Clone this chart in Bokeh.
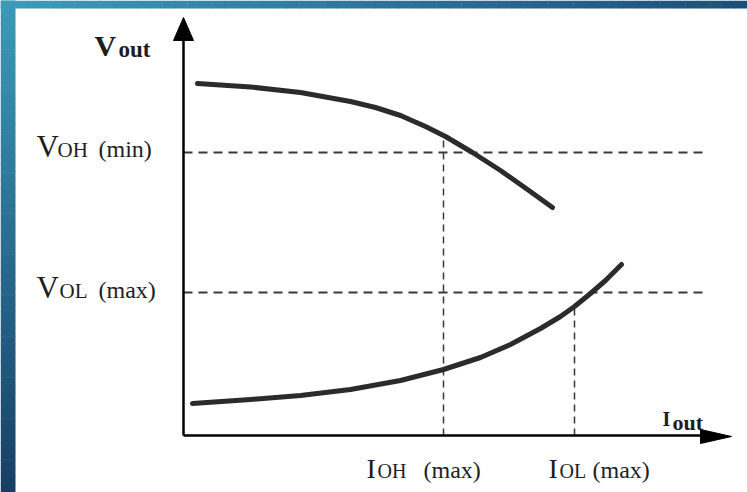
import numpy as np
from bokeh.plotting import figure
from bokeh.models import Range1d
from bokeh.core.properties import value
from bokeh.embed import file_html
from bokeh.resources import INLINE

# Output characteristic curves (arbitrary units, origin at the axes corner)
i_high = [14, 67, 117, 167, 192, 217, 242, 262, 289, 317, 344, 369]
v_high = [352, 348.5, 343, 334, 328, 320, 309, 299, 283, 265, 246, 228]

i_low = [9, 67, 117, 167, 217, 260, 297, 327, 357, 377, 391, 407, 422, 438]
v_low = [32, 36, 40, 46, 55, 66, 78, 91, 107, 119, 129, 142, 155, 171]

# Specification levels
VOH_MIN = 283
VOL_MAX = 143
IOH_MAX = 260
IOL_MAX = 391

W, H = 747, 492
X0, Y0 = 183, 435  # pixel position of the origin

p = figure(width=W, height=H, output_backend="svg", toolbar_location=None,
           x_range=Range1d(-X0, W - X0), y_range=Range1d(Y0 - H, Y0),
           min_border=0, x_axis_type=None, y_axis_type=None)
p.grid.visible = False
p.outline_line_color = None
p.background_fill_color = "white"
p.border_fill_color = "white"


def px(x):
    return x - X0


def py(y):
    return Y0 - y


def hexmix(c1, c2, t):
    a = np.array([int(c1[i:i + 2], 16) for i in (1, 3, 5)], dtype=float)
    b = np.array([int(c2[i:i + 2], 16) for i in (1, 3, 5)], dtype=float)
    c = a + (b - a) * t
    return "#%02x%02x%02x" % tuple(int(round(v)) for v in c)


# slide frame: gradient bands along the top and the left
n = 60
xs = np.linspace(0, W, n + 1)
p.quad(left=[px(v) for v in xs[:-1]], right=[px(v) + 0.5 for v in xs[1:]],
       top=[py(0)] * n, bottom=[py(8)] * n,
       fill_color=[hexmix("#3b9bba", "#1c4f77", k / (n - 1)) for k in range(n)],
       line_color=None)
ys = np.linspace(0, H, n + 1)
p.quad(left=[px(0)] * n, right=[px(15)] * n,
       top=[py(v) + 0.5 for v in ys[:-1]], bottom=[py(v) for v in ys[1:]],
       fill_color=[hexmix("#3a9ab8", "#173f66", k / (n - 1)) for k in range(n)],
       line_color=None)

# dashed reference levels
dash_c = "#383838"
p.line([0, px(705)], [VOH_MIN, VOH_MIN], line_color=dash_c, line_width=2, line_dash="9 6")
p.line([0, px(705)], [VOL_MAX, VOL_MAX], line_color=dash_c, line_width=2, line_dash="9 6")
v_at_ioh = float(np.interp(IOH_MAX, i_high, v_high))
v_at_iol = float(np.interp(IOL_MAX, i_low, v_low))
p.line([IOH_MAX, IOH_MAX], [0, v_at_ioh], line_color=dash_c, line_width=1.5, line_dash="7 5")
p.line([IOL_MAX, IOL_MAX], [0, v_at_iol], line_color=dash_c, line_width=1.5, line_dash="7 5")

# curves
curve_c = "#2b2b2b"
p.line(i_high, v_high, line_color=curve_c, line_width=5, line_join="round", line_cap="round")
p.line(i_low, v_low, line_color=curve_c, line_width=5, line_join="round", line_cap="round")

# axes with arrow heads
p.line([0, 0], [0, py(38)], line_color="black", line_width=2.5)
p.line([0, px(705)], [0, 0], line_color="black", line_width=2.5)
p.patch([px(173), px(183), px(193)], [py(40), py(17), py(40)], fill_color="black", line_color="black")
p.patch([px(700), px(731), px(700)], [py(429), py(436), py(443)], fill_color="black", line_color="black")

serif = value("Liberation Serif")
txt_c = "#1e1e1e"


def put(x, y, s, size, bold=False):
    # y is the wanted baseline (pixels from the top)
    p.text(x=[px(x)], y=[py(y - 0.33 * size)], text=[s], text_font=serif,
           text_font_size=f"{size}px", text_font_style="bold" if bold else "normal",
           text_color=txt_c, text_baseline="alphabetic", text_align="left")


# axis titles
put(94, 55, "V", 30, True)
put(118, 57, "out", 23, True)
put(662, 425, "I", 20, True)
put(672, 429, "out", 22, True)

# level labels
put(36, 156, "V", 31)
put(57, 156, "OH", 21)
put(98, 156, "(min)", 24)
put(36, 297, "V", 31)
put(59, 297, "OL", 21)
put(98, 297, "(max)", 24)

put(366, 477, "I", 28)
put(377, 477, "OH", 20)
put(423, 477, "(max)", 24)
put(548, 477, "I", 28)
put(559, 477, "OL", 20)
put(592, 477, "(max)", 24)

open("out.html", "w").write(file_html(p, INLINE))
